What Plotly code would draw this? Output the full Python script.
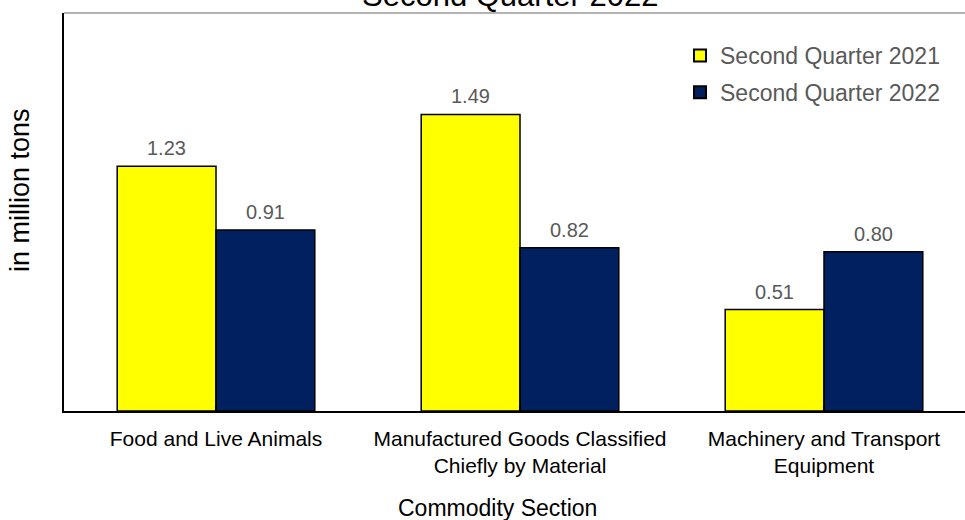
import plotly.graph_objects as go

# Commodity sections (x categories) and tonnage per quarter, in million tons
categories = [
    "Food and Live Animals",
    "Manufactured Goods Classified<br>Chiefly by Material",
    "Machinery and Transport<br>Equipment",
]
series_names = ["Second Quarter 2021", "Second Quarter 2022"]
q2_2021 = [1.23, 1.49, 0.51]
q2_2022 = [0.91, 0.82, 0.80]
value_labels_2021 = ["1.23", "1.49", "0.51"]
value_labels_2022 = ["0.91", "0.82", "0.80"]

chart_title = "Second Quarter 2022"
x_title = "Commodity Section"
y_title = "in million tons"

FONT = "Liberation Sans, Arial, sans-serif"
YELLOW = "#FFFF00"
NAVY = "#002060"
LABEL_GREY = "#595959"
BAR_GAP = 0.35

W, H = 965, 520
ML, MR, MT, MB = 64, 0, 13, 109
PLOT_W = W - ML - MR
PLOT_H = H - MT - MB

fig = go.Figure()
idx = list(range(len(categories)))
for name, vals, color in [
    (series_names[0], q2_2021, YELLOW),
    (series_names[1], q2_2022, NAVY),
]:
    fig.add_trace(go.Bar(
        x=idx, y=vals, name=name, legendgroup=name,
        marker=dict(color=color, line=dict(color="#000000", width=1.5)),
    ))

# value labels above each bar, offset to the bar centre within its group
half = (1 - BAR_GAP) / 4
annotations = []
for i in idx:
    for off, v, lab in [(-half, q2_2021[i], value_labels_2021[i]),
                        (half, q2_2022[i], value_labels_2022[i])]:
        annotations.append(dict(
            x=i + off, y=v, xref="x", yref="y", text=lab, showarrow=False,
            yanchor="bottom", yshift=5,
            font=dict(family=FONT, size=20, color=LABEL_GREY),
        ))

# title sits mostly above the visible page
annotations.append(dict(
    x=(510 - ML) / PLOT_W, xref="paper", y=1, yref="paper", text=chart_title,
    showarrow=False, xanchor="center", yanchor="bottom", yshift=-2,
    font=dict(family=FONT, size=31, color="#000000"),
))
annotations.append(dict(
    x=0, xref="paper", y=0.555, yref="paper", text=y_title, showarrow=False,
    textangle=-90, xanchor="center", yanchor="middle", xshift=-44,
    font=dict(family=FONT, size=27, color="#000000"),
))
annotations.append(dict(
    x=(497 - ML) / PLOT_W, xref="paper", y=0, yref="paper", text=x_title,
    showarrow=False, xanchor="center", yanchor="middle", yshift=-97,
    font=dict(family=FONT, size=23, color="#000000"),
))

fig.update_layout(
    width=W, height=H,
    margin=dict(l=ML, r=MR, t=MT, b=MB, pad=0),
    paper_bgcolor="white", plot_bgcolor="white",
    barmode="group", bargap=BAR_GAP, bargroupgap=0,
    font=dict(family=FONT, color="#000000"),
    showlegend=True,
    legend=dict(
        x=(680 - ML) / PLOT_W, y=1 - (34 - MT) / PLOT_H,
        xanchor="left", yanchor="top",
        font=dict(family=FONT, size=23, color=LABEL_GREY),
        tracegroupgap=4, bgcolor="rgba(0,0,0,0)",
        itemsizing="constant", itemwidth=30,
    ),
    xaxis=dict(
        tickmode="array", tickvals=idx, ticktext=categories,
        range=[-0.5, 2.5 - (ML + 912 - W) / 304],
        tickson="boundaries", ticks="inside", ticklen=6, tickcolor="#000000",
        tickwidth=1.5, ticklabelstandoff=8,
        showline=True, linecolor="#000000", linewidth=1.5,
        showgrid=False, zeroline=False,
        tickfont=dict(family=FONT, size=21, color="#000000"),
    ),
    yaxis=dict(
        range=[0, 2.0], showticklabels=False, ticks="",
        showline=True, linecolor="#000000", linewidth=1.5,
        showgrid=False, zeroline=False,
    ),
    annotations=annotations,
    shapes=[dict(type="line", xref="paper", yref="paper", x0=0, x1=1, y0=1, y1=1,
                 line=dict(color="#B3B3B3", width=2))],
)

fig.write_html("out.html")
